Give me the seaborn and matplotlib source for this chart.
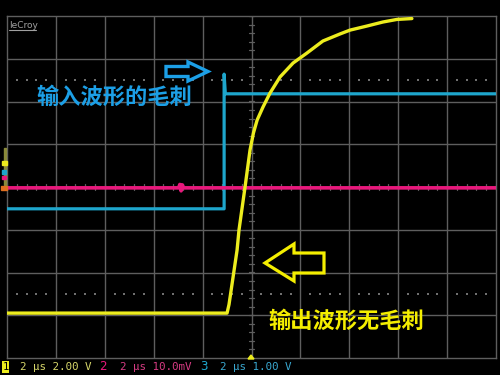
import numpy as np
import pandas as pd
import matplotlib
matplotlib.use("Agg")
import matplotlib.pyplot as plt
import seaborn as sns
from matplotlib.patches import Polygon, Rectangle

# ---- acquisition settings -------------------------------------------------
time_per_div = 2.0          # µs/div
n_hdiv, n_vdiv = 10, 8

# Channel 1 (yellow): output, volts
ch1_t = [-10.0, -1.00, -0.92, -0.59, -0.51, -0.27, -0.06, 0.08, 0.23, 0.47,
         0.76, 1.17, 1.70, 2.27, 2.92, 3.62, 4.03, 4.72, 5.38, 5.95, 6.56]
ch1_v = [-5.9, -5.9, -5.5, -2.95, -2.0, -0.05, 1.73, 2.53, 3.13, 3.74,
         4.40, 5.15, 5.80, 6.27, 6.83, 7.16, 7.34, 7.53, 7.72, 7.84, 7.88]
ch1_scale = 2.0             # V/div

# Channel 2 (magenta): millivolts
ch2_t = [-10.0, -2.98, -2.93, -2.88, -2.83, -2.78, 10.0]
ch2_v = [-0.2, -0.2, 0.6, -0.9, 0.5, -0.2, -0.2]
ch2_scale = 10.0            # mV/div

# Channel 3 (cyan): input, volts
ch3_t = [-10.0, -1.12, -1.12, -1.07, 10.0]
ch3_v = [-0.51, -0.51, 2.64, 2.18, 2.18]
ch3_scale = 1.0             # V/div

status_labels = ["2 µs 2.00 V", "2 µs 10.0mV", "2 µs 1.00 V"]
note_in = "输入波形的毛刺"
note_out = "输出波形无毛刺"

YELLOW = "#ecec1e"
MAGENTA = "#e8187c"
CYAN = "#1ea6cc"
NOTE_BLUE = "#1c9fe6"
NOTE_YELLOW = "#f4ee00"
GRID = "#5e5e5e"

sns.set_theme(style="dark")
plt.rcParams["font.family"] = ["Noto Sans CJK SC", "DejaVu Sans"]

W, H = 500, 375
fig = plt.figure(figsize=(5, 3.75), dpi=100, facecolor="black")


def fx(px):
    return px / W


def fy(py):
    return 1 - py / H


ax = fig.add_axes([fx(7), fy(358), fx(496) - fx(7), fy(16) - fy(358)])
ax.set_facecolor("black")
half_t = n_hdiv / 2 * time_per_div
ax.set_xticks([])
ax.set_yticks([])
for s in ax.spines.values():
    s.set_color(GRID)
    s.set_linewidth(1.0)
ax.grid(False)

# graticule
for k in range(1, n_hdiv):
    ax.axvline(-half_t + k * time_per_div, color=GRID, lw=1.0, zorder=1)
for k in range(1, n_vdiv):
    ax.axhline(-n_vdiv / 2 + k, color=GRID, lw=1.0, zorder=1)

# dotted guide lines at +/-2.5 div
dot_x = [x for x in np.arange(-half_t, half_t + 1e-9, time_per_div / 5)
         if abs((x / time_per_div) - round(x / time_per_div)) > 1e-6]
for yy in (2.5, -2.5):
    ax.scatter(dot_x, [yy] * len(dot_x), s=1.2, color="#707070",
               marker="s", linewidths=0, zorder=1)

# sub-division ticks on the centre lines
tick_len_x = 0.06 * time_per_div
tick_len_y = 0.06
for yy in np.arange(-n_vdiv / 2, n_vdiv / 2 + 1e-9, 0.2):
    ax.plot([-tick_len_x, tick_len_x], [yy, yy], color=GRID, lw=0.9, zorder=1)
for xx in np.arange(-half_t, half_t + 1e-9, time_per_div / 5):
    ax.plot([xx, xx], [-tick_len_y, tick_len_y], color=GRID, lw=0.9, zorder=1)

# traces, in divisions
df1 = pd.DataFrame({"t": ch1_t, "div": np.array(ch1_v) / ch1_scale})
df2 = pd.DataFrame({"t": ch2_t, "div": np.array(ch2_v) / ch2_scale})
df3 = pd.DataFrame({"t": ch3_t, "div": np.array(ch3_v) / ch3_scale})

sns.lineplot(data=df3, x="t", y="div", estimator=None, sort=False,
             color=CYAN, lw=2.3, ax=ax, zorder=3)
sns.lineplot(data=df2, x="t", y="div", estimator=None, sort=False,
             color=MAGENTA, lw=2.6, ax=ax, zorder=4)
sns.lineplot(data=df1, x="t", y="div", estimator=None, sort=False,
             color=YELLOW, lw=2.4, ax=ax, zorder=5)
ax.set_xlabel("")
ax.set_ylabel("")
ax.set_xlim(-half_t, half_t)
ax.set_ylim(-n_vdiv / 2, n_vdiv / 2)

# annotations
fig.text(fx(114), fy(97), note_in, color=NOTE_BLUE, fontsize=16,
         fontweight="bold", ha="center", va="center")
fig.text(fx(346), fy(321), note_out, color=NOTE_YELLOW, fontsize=16,
         fontweight="bold", ha="center", va="center")

blue_arrow = [(166, 66.5), (188, 66.5), (188, 62), (208, 71.5), (188, 81),
              (188, 76.5), (166, 76.5)]
yellow_arrow = [(324, 253), (294, 253), (294, 244), (265, 263), (294, 281),
                (294, 273), (324, 273)]
fig.patches.append(Polygon([(fx(a), fy(b)) for a, b in blue_arrow], closed=True,
                           fill=False, edgecolor=NOTE_BLUE, lw=2.4,
                           joinstyle="miter", transform=fig.transFigure))
fig.patches.append(Polygon([(fx(a), fy(b)) for a, b in yellow_arrow], closed=True,
                           fill=False, edgecolor=NOTE_YELLOW, lw=2.3,
                           joinstyle="miter", transform=fig.transFigure))

# brand mark
fig.text(fx(9), fy(28), "leCroy", color="#a0a0a0", fontsize=6.5,
         family="DejaVu Sans", ha="left", va="baseline")
fig.lines.append(plt.Line2D([fx(9), fx(36)], [fy(30), fy(30)], color="#a0a0a0",
                            lw=0.8, transform=fig.transFigure))

# left-edge channel markers
fig.patches.append(Rectangle((fx(4), fy(185)), fx(2), fy(148) - fy(185),
                             color="#8a8a3a", transform=fig.transFigure))
fig.patches.append(Rectangle((fx(2), fy(165)), fx(5), fy(161) - fy(165),
                             color=YELLOW, transform=fig.transFigure))
fig.patches.append(Rectangle((fx(2), fy(174)), fx(4), fy(170) - fy(174),
                             color=CYAN, transform=fig.transFigure))
fig.patches.append(Rectangle((fx(2), fy(179)), fx(4), fy(176) - fy(179),
                             color=MAGENTA, transform=fig.transFigure))
fig.patches.append(Rectangle((fx(1), fy(190)), fx(6), fy(186) - fy(190),
                             color="#e07020", transform=fig.transFigure))

# trigger position marker
fig.patches.append(Polygon([(fx(248), fy(359)), (fx(254), fy(359)), (fx(251), fy(355))],
                           closed=True, color=YELLOW, transform=fig.transFigure))

# status bar
mono = "DejaVu Sans Mono"
yb = fy(367)
fig.text(fx(5.5), yb, "1", color="black", fontsize=7.5, family=mono,
         ha="center", va="center",
         bbox=dict(boxstyle="square,pad=0.08", fc=YELLOW, ec="none"))
fig.text(fx(20), yb, status_labels[0], color="#d6d66a", fontsize=7.8,
         family=mono, ha="left", va="center")
fig.text(fx(103), yb, "2", color=MAGENTA, fontsize=9, family=mono,
         ha="center", va="center")
fig.text(fx(120), yb, status_labels[1], color="#d83c84", fontsize=7.8,
         family=mono, ha="left", va="center")
fig.text(fx(204), yb, "3", color=CYAN, fontsize=9, family=mono,
         ha="center", va="center")
fig.text(fx(220), yb, status_labels[2], color="#3aa8d0", fontsize=7.8,
         family=mono, ha="left", va="center")

fig.savefig("out.png", dpi=100, facecolor="black")
